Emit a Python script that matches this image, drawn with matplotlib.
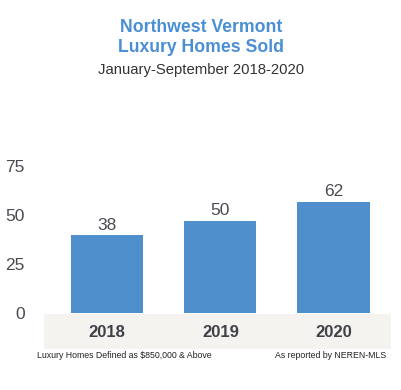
import matplotlib
matplotlib.use('Agg')
import matplotlib.pyplot as plt

plt.rcParams['font.family'] = ['Liberation Sans', 'DejaVu Sans']

years = ['2018', '2019', '2020']
sold = [38, 50, 62]                 # labels printed above bars
bar_heights = [39.5, 47, 56.5]      # bar heights as drawn in the source chart
yticks = [0, 25, 50, 75]

blue = '#4f8fcc'
dark = '#3f4048'
num_color = '#4a4b52'

fig = plt.figure(figsize=(4.02, 3.90), dpi=100)
W, H = 402, 390

# axes: x 44..391 px, y 150..313 px (from top)
ax = fig.add_axes([44 / W, (H - 313) / H, (391 - 44) / W, (313 - 150) / H])
x = list(range(len(years)))
ax.bar(x, bar_heights, width=0.64, color=blue)
for xi, h, s in zip(x, bar_heights, sold):
    ax.annotate(str(s), (xi, h), xytext=(0, 2), textcoords='offset points',
                ha='center', va='bottom', fontsize=12.5, color=num_color)

ax.set_xlim(-0.56, 2.51)
ax.set_ylim(0, 83)
ax.set_yticks(yticks)
ax.set_yticklabels([str(t) for t in yticks], fontsize=12.5, color=num_color)
ax.tick_params(axis='y', length=0, pad=14)
ax.set_xticks([])
for sp in ax.spines.values():
    sp.set_visible(False)

# gray band with year labels
band = fig.add_axes([44 / W, (H - 349) / H, (391 - 44) / W, (349 - 314) / H])
band.set_facecolor('#f5f3ef')
band.set_xlim(-0.56, 2.51)
band.set_ylim(0, 1)
for xi, yr in zip(x, years):
    band.text(xi, 0.48, yr, ha='center', va='center', fontsize=12,
              fontweight='bold', color=dark)
band.set_xticks([])
band.set_yticks([])
for sp in band.spines.values():
    sp.set_visible(False)

fig.text(0.5, 1 - 28 / H, 'Northwest Vermont', ha='center', va='center',
         fontsize=12.7, fontweight='bold', color='#4a8fd4')
fig.text(0.5, 1 - 48 / H, 'Luxury Homes Sold', ha='center', va='center',
         fontsize=12.7, fontweight='bold', color='#4a8fd4')
fig.text(0.5, 1 - 70 / H, 'January-September 2018-2020', ha='center',
         va='center', fontsize=10.7, color='#333333')

fig.text(37 / W, 1 - 355 / H, 'Luxury Homes Defined as $850,000 & Above',
         ha='left', va='center', fontsize=6.3, color='#222222')
fig.text(386 / W, 1 - 355 / H, 'As reported by NEREN-MLS',
         ha='right', va='center', fontsize=6.3, color='#222222')

fig.savefig('out.png', dpi=100)
